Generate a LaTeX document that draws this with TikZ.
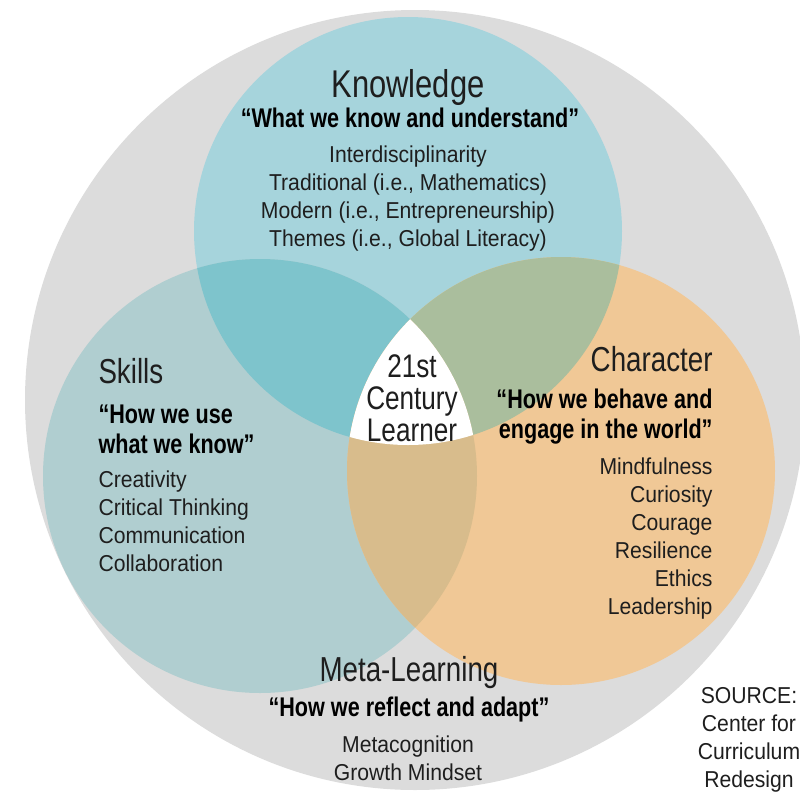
\documentclass[tikz,border=0pt]{standalone}
\usepackage{fontspec}
\setmainfont{Liberation Sans}
\newfontfamily\headfont{Liberation Sans}[FakeStretch=0.8]
\newfontfamily\bodyfont{Liberation Sans}[FakeStretch=0.92]

\definecolor{ringgray}{HTML}{DCDCDC}
\definecolor{knowblue}{HTML}{A6D4DC}
\definecolor{skillteal}{HTML}{B0CED0}
\definecolor{charorange}{HTML}{F0C896}
\definecolor{ksteal}{HTML}{7EC4CC}
\definecolor{kcgreen}{HTML}{AABE9D}
\definecolor{sctan}{HTML}{D8BC8C}
\definecolor{inktext}{HTML}{1E1E1E}

\tikzset{every picture/.style={line width=0.75pt}}
\tikzset{
  title/.style={inner sep=0pt, text=inktext, font=\headfont\fontsize{26}{28}\selectfont},
  bigtitle/.style={title, font=\headfont\fontsize{29}{31}\selectfont},
  quote/.style={inner sep=0pt, text=black, font=\headfont\bfseries\fontsize{20.25}{22.5}\selectfont},
  items/.style={inner sep=0pt, text=inktext, font=\bodyfont\fontsize{17.25}{21}\selectfont},
  centre/.style={inner sep=0pt, text=inktext, align=center, font=\headfont\fontsize{24.5}{24}\selectfont}
}

\begin{document}
\begin{tikzpicture}[x=0.75pt,y=0.75pt,yscale=-1]
\useasboundingbox (0,0) rectangle (800,793);

\coordinate (K) at (408,231);
\coordinate (S) at (260,476);
\coordinate (C) at (561,471);

%Shape: Circle (outer ring)
\fill[ringgray] (415,400) circle (390);

%Shape: Circles
\fill[knowblue] (K) circle (214);
\fill[skillteal] (S) circle (217);
\fill[charorange] (C) circle (214);

%Overlaps
\begin{scope}
  \clip (K) circle (214);
  \fill[ksteal] (S) circle (217);
\end{scope}
\begin{scope}
  \clip (K) circle (214);
  \fill[kcgreen] (C) circle (214);
\end{scope}
\begin{scope}
  \clip (S) circle (217);
  \fill[sctan] (C) circle (214);
\end{scope}
\begin{scope}
  \clip (K) circle (214);
  \clip (S) circle (217);
  \fill[white] (C) circle (214);
\end{scope}

% Text Node: Knowledge (base = last line)
\node[bigtitle, anchor=base] (knowTitle) at (408,97) {Knowledge};
\node[quote, anchor=base] (knowQuote) at (410,127) {“What we know and understand”};
\node[items, anchor=base, align=center] (knowItems) at (408,246)
  {Interdisciplinarity\\Traditional (i.e., Mathematics)\\Modern (i.e., Entrepreneurship)\\Themes (i.e., Global Literacy)};

% Text Node: Skills
\node[title, anchor=base west] (skillTitle) at (98,383) {Skills};
\node[quote, anchor=base west, align=left] (skillQuote) at (98,453) {“How we use\\what we know”};
\node[items, anchor=base west, align=left] (skillItems) at (98,571)
  {Creativity\\Critical Thinking\\Communication\\Collaboration};

% Text Node: Character
\node[title, anchor=base east] (charTitle) at (713,371) {Character};
\node[quote, anchor=base east, align=right] (charQuote) at (713,438) {“How we behave and\\engage in the world”};
\node[items, anchor=base east, align=right] (charItems) at (713,614)
  {Mindfulness\\Curiosity\\Courage\\Resilience\\Ethics\\Leadership};

% Text Node: Meta-Learning
\node[title, anchor=base] (metaTitle) at (409,681) {Meta-Learning};
\node[quote, anchor=base] (metaQuote) at (409,716) {“How we reflect and adapt”};
\node[items, anchor=base, align=center] (metaItems) at (408,780)
  {Metacognition\\Growth Mindset};

% Text Node: centre
\node[centre, anchor=base] (learner) at (412,441) {21st\\Century\\Learner};

% Text Node: source
\node[items, anchor=base, align=center] (source) at (749,787)
  {SOURCE:\\Center for\\Curriculum\\Redesign};

\end{tikzpicture}
\end{document}
